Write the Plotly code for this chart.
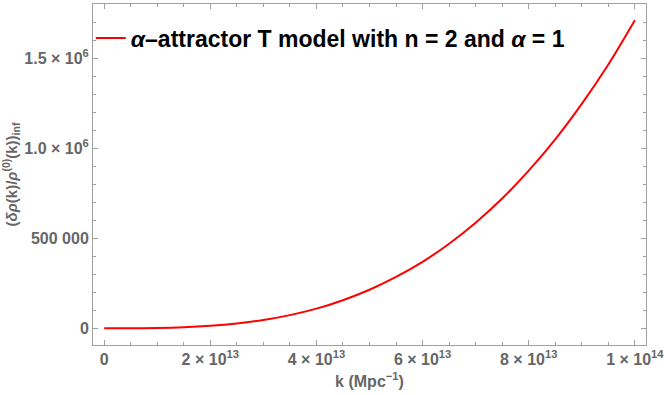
import plotly.graph_objects as go

# k values (Mpc^-1) and read-off curve values
k_vals = [0, 0.5e13, 1.0e13, 1.5e13, 2.0e13, 2.5e13, 3.0e13, 3.5e13, 4.0e13, 4.5e13,
          5.0e13, 5.5e13, 6.0e13, 6.5e13, 7.0e13, 7.5e13, 8.0e13, 8.5e13, 9.0e13,
          9.5e13, 1.0e14]
ratio_vals = [0, 200, 1700, 5800, 14000, 27000, 46000, 73000, 109000, 156000,
              214000, 285000, 369000, 470000, 587000, 721000, 876000, 1050000,
              1247000, 1466000, 1712000]

x_tickvals = [0, 2e13, 4e13, 6e13, 8e13, 1e14]
x_ticktext = ["0", "2 × 10<sup>13</sup>", "4 × 10<sup>13</sup>", "6 × 10<sup>13</sup>",
              "8 × 10<sup>13</sup>", "1 × 10<sup>14</sup>"]
y_tickvals = [0, 500000, 1000000, 1500000]
y_ticktext = ["0", "500 000", "1.0 × 10<sup>6</sup>", "1.5 × 10<sup>6</sup>"]

legend_name = "<i>α</i>–attractor T model with n = 2 and <i>α</i> = 1"

frame_col = "#a0a0a0"
label_col = "#666666"
font_fam = "Liberation Sans, Arial, sans-serif"

fig = go.Figure()
fig.add_trace(go.Scatter(x=k_vals, y=ratio_vals, mode="lines", name=legend_name,
                         line=dict(color="#ff0000", width=2, shape="spline"),
                         showlegend=True))

axis_common = dict(
    showgrid=False, zeroline=False, showline=True, linecolor=frame_col, linewidth=1,
    mirror="ticks", ticks="inside", ticklen=5, tickcolor=frame_col, tickwidth=1,
    automargin=False, ticklabeloverflow="allow",
    tickfont=dict(family=font_fam, size=16, color=label_col, weight="bold"),
)

fig.update_layout(
    width=664, height=395,
    margin=dict(l=93, r=18, t=4, b=50),
    plot_bgcolor="white", paper_bgcolor="white",
    showlegend=True,
    legend=dict(x=-0.004, y=0.90, xanchor="left", yanchor="middle",
                bgcolor="rgba(0,0,0,0)", itemwidth=30,
                font=dict(family=font_fam, size=23, color="black", weight="bold")),
    xaxis=dict(range=[-0.21e13, 1.021e14], tickmode="array", tickvals=x_tickvals,
               ticktext=x_ticktext,
               minor=dict(dtick=0.5e13, tick0=0, ticks="inside", ticklen=3, tickcolor=frame_col),
               title=dict(text="k (Mpc<sup>−1</sup>)", standoff=8,
                          font=dict(family=font_fam, size=16, color=label_col, weight="bold")),
               **axis_common),
    yaxis=dict(range=[-93000, 1802000], tickmode="array", tickvals=y_tickvals,
               ticktext=y_ticktext,
               minor=dict(dtick=100000, tick0=0, ticks="inside", ticklen=3, tickcolor=frame_col),
               title=dict(text="(<i>δρ</i>(k)/<i>ρ</i><sup>(0)</sup>(k))<sub>inf</sub>", standoff=3,
                          font=dict(family=font_fam, size=15, color=label_col, weight="bold")),
               **axis_common),
)

fig.write_html("out.html", config={"displayModeBar": False},
               post_script="document.body.style.margin='0';document.body.style.padding='0';")
